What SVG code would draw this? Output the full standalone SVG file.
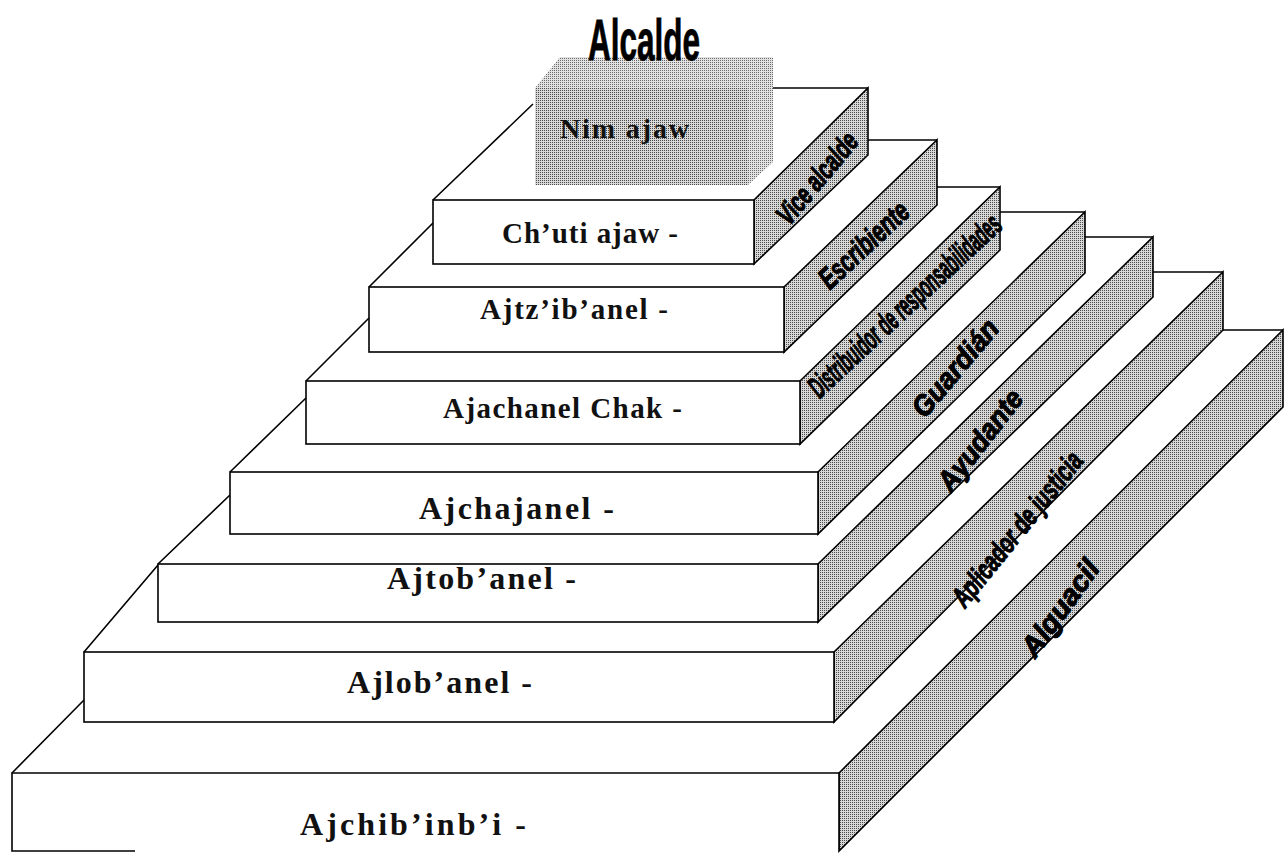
<svg xmlns="http://www.w3.org/2000/svg" width="1285" height="853" viewBox="0 0 1285 853">
  <defs>
    <!-- fine halftone used for the shaded faces -->
    <pattern id="halftone" width="2" height="2" patternUnits="userSpaceOnUse">
      <rect width="2" height="2" fill="#d8d8d8"/>
      <rect x="0" y="0" width="1" height="1" fill="#4a4a4a"/>
    </pattern>
    <pattern id="halftone-light" width="2" height="2" patternUnits="userSpaceOnUse">
      <rect width="2" height="2" fill="#e2e2e2"/>
      <rect x="0" y="0" width="1" height="1" fill="#6a6a6a"/>
    </pattern>
    <filter id="soft" x="-5%" y="-5%" width="110%" height="110%">
      <feGaussianBlur stdDeviation="0.7"/>
    </filter>
    <style>
      .edge { stroke: #000; stroke-width: 1.6; stroke-linejoin: miter; fill: none; }
      .front { fill: #fff; stroke: #000; stroke-width: 1.6; }
      .side { fill: url(#halftone); stroke: #000; stroke-width: 1.6; stroke-linejoin: miter; }
      .name { font-family: "Liberation Serif", "Times New Roman", serif; font-weight: bold; fill: #111; }
      .role { font-family: "Liberation Sans", Arial, sans-serif; font-weight: bold; font-style: italic; fill: #000; stroke: #000; stroke-width: 1.1; stroke-linejoin: round; }
      .title { font-family: "Liberation Sans", Arial, sans-serif; font-weight: bold; fill: #000; stroke: #000; stroke-width: 0.8; }
    </style>
  </defs>

  <rect width="1285" height="853" fill="#fff"/>

  <!-- each step: visible top edges, shaded side face, white front -->
  <g id="ajchibinbi">
    <path class="edge" d="M12,773 L84,700 M1223,330 H1283"/>
    <polygon class="side" points="839,773 1283,330 1283,407 839,851"/>
    <rect fill="#fff" x="12" y="773" width="827" height="78"/>
    <path class="edge" d="M135,851 H12 V773 H839 V851"/>
    <text class="name" x="300" y="835" font-size="32" textLength="226" lengthAdjust="spacing">Ajchib’inb’i -</text>
    <text class="role" font-size="29" transform="translate(1060,608) rotate(-54)" x="-56" y="10" textLength="112" lengthAdjust="spacingAndGlyphs">Alguacil</text>
  </g>

  <g id="ajlobanel">
    <path class="edge" d="M84,652 L158,565 M1153,272 H1223"/>
    <polygon class="side" points="834,652 1223,272 1223,330 834,722"/>
    <rect class="front" x="84" y="652" width="750" height="70"/>
    <text class="name" x="347" y="693" font-size="32" textLength="185" lengthAdjust="spacing">Ajlob’anel -</text>
    <text class="role" font-size="29" transform="translate(1017,529) rotate(-51)" x="-95" y="10" textLength="190" lengthAdjust="spacingAndGlyphs">Aplicador de justicia</text>
  </g>

  <g id="ajtobanel">
    <path class="edge" d="M158,564 L230,495 M1085,237 H1153"/>
    <polygon class="side" points="818,564 1153,237 1153,297 818,622"/>
    <rect class="front" x="158" y="564" width="660" height="58"/>
    <text class="name" x="387" y="589" font-size="32" textLength="189" lengthAdjust="spacing">Ajtob’anel -</text>
    <text class="role" font-size="29" transform="translate(980,440) rotate(-52)" x="-60" y="10" textLength="120" lengthAdjust="spacingAndGlyphs">Ayudante</text>
  </g>

  <g id="ajchajanel">
    <path class="edge" d="M230,472 L306,398 M1000,212 H1085"/>
    <polygon class="side" points="818,472 1085,212 1085,273 818,534"/>
    <rect class="front" x="230" y="472" width="588" height="62"/>
    <text class="name" x="419" y="519" font-size="32" textLength="195" lengthAdjust="spacing">Ajchajanel -</text>
    <text class="role" font-size="29" transform="translate(955,368) rotate(-50)" x="-59" y="10" textLength="118" lengthAdjust="spacingAndGlyphs">Guardián</text>
  </g>

  <g id="ajachanel-chak">
    <path class="edge" d="M306,381 L369,318 M937,187 H1000"/>
    <polygon class="side" points="800,381 1000,187 1000,250 800,444"/>
    <rect class="front" x="306" y="381" width="494" height="63"/>
    <text class="name" x="443" y="418" font-size="29" textLength="239" lengthAdjust="spacing">Ajachanel Chak -</text>
    <text class="role" font-size="31" transform="translate(905,306) rotate(-43)" x="-126" y="10" textLength="252" lengthAdjust="spacingAndGlyphs">Distribuidor de responsabilidades</text>
  </g>

  <g id="ajtzibanel">
    <path class="edge" d="M369,287 L433,223 M868,140 H937"/>
    <polygon class="side" points="784,287 937,140 937,205 784,352"/>
    <rect class="front" x="369" y="287" width="415" height="65"/>
    <text class="name" x="480" y="319" font-size="29" textLength="188" lengthAdjust="spacing">Ajtz’ib’anel -</text>
    <text class="role" font-size="30" transform="translate(864,245) rotate(-43)" x="-56" y="10" textLength="112" lengthAdjust="spacingAndGlyphs">Escribiente</text>
  </g>

  <g id="chuti-ajaw">
    <path class="edge" d="M433,200 L533,104 M773,88 H868"/>
    <polygon class="side" points="754,200 868,88 868,155 754,264"/>
    <rect class="front" x="433" y="200" width="321" height="64"/>
    <text class="name" x="502" y="243" font-size="29" textLength="176" lengthAdjust="spacing">Ch’uti ajaw -</text>
    <text class="role" font-size="29" transform="translate(817,178) rotate(-50)" x="-55" y="10" textLength="110" lengthAdjust="spacingAndGlyphs">Vice alcalde</text>
  </g>

  <!-- top block, printed soft without outlines -->
  <g id="nim-ajaw">
    <g filter="url(#soft)">
      <polygon fill="url(#halftone-light)" points="535,88 560,57 773,57 748,88"/>
      <polygon fill="url(#halftone-light)" points="748,88 773,57 773,162 748,185"/>
      <rect fill="url(#halftone)" x="535" y="88" width="213" height="97"/>
    </g>
    <text class="name" x="560" y="138" font-size="28" textLength="129" lengthAdjust="spacing">Nim ajaw</text>
  </g>

  <g id="alcalde">
    <text class="title" x="588" y="60" font-size="57" textLength="112" lengthAdjust="spacingAndGlyphs">Alcalde</text>
  </g>
</svg>
